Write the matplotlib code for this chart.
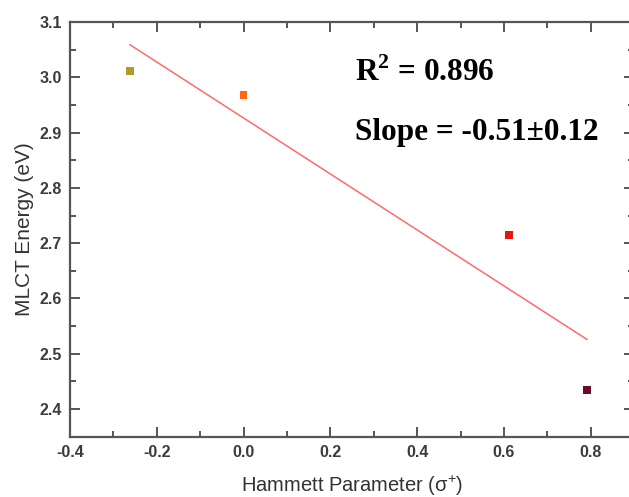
import matplotlib.pyplot as plt
import numpy as np
from matplotlib.ticker import MultipleLocator

plt.rcParams["mathtext.fontset"] = "custom"
plt.rcParams["mathtext.rm"] = "Liberation Sans"
plt.rcParams["mathtext.it"] = "Liberation Sans"
plt.rcParams["mathtext.bf"] = "Liberation Serif:bold"

# Hammett parameter vs MLCT energy
sigma_plus = [-0.262, 0.0, 0.612, 0.791]
mlct_ev = [3.011, 2.968, 2.715, 2.434]
point_colors = ["#b39a26", "#ff6a10", "#e5160c", "#6a0a30"]

r2_text = r"R$^{\mathbf{2}}$ = 0.896"
slope_text = "Slope = -0.51\u00b10.12"

fig = plt.figure(figsize=(6.29, 4.97), dpi=100)
ax = fig.add_axes([0.1113, 0.1213, 0.897, 0.8344])

# linear fit drawn over the data range
coef = np.polyfit(sigma_plus, mlct_ev, 1)
xfit = np.array([min(sigma_plus), max(sigma_plus)])
ax.plot(xfit, np.polyval(coef, xfit), color="#ff6b6b", lw=1.1, zorder=2)

ax.scatter(sigma_plus, mlct_ev, marker="s", s=30, c=point_colors,
           edgecolors="none", zorder=3)

ax.set_xlim(-0.4, 0.9)
ax.set_ylim(2.35, 3.1)
ax.xaxis.set_minor_locator(MultipleLocator(0.1))
ax.yaxis.set_major_locator(MultipleLocator(0.1))
ax.yaxis.set_minor_locator(MultipleLocator(0.05))
ax.set_xticks([-0.4, -0.2, 0.0, 0.2, 0.4, 0.6, 0.8])
ax.set_xticklabels(["-0.4", "-0.2", "0.0", "0.2", "0.4", "0.6", "0.8"])

gray = "#3c3c3c"
for sp in ax.spines.values():
    sp.set_color("#555555")
    sp.set_linewidth(1.6)
ax.tick_params(which="both", direction="in", top=True, right=True,
               color="#555555", width=1.4, labelcolor=gray, labelsize=11.5)
ax.tick_params(which="major", length=7, pad=6)
ax.tick_params(which="minor", length=4)
for lab in ax.get_xticklabels() + ax.get_yticklabels():
    lab.set_family("Liberation Sans")
    lab.set_fontweight("bold")

ax.set_xlabel("Hammett Parameter (\u03c3$^{+}$)", family="Liberation Sans",
              fontsize=14.5, color="#333333", labelpad=10)
ax.set_ylabel("MLCT Energy (eV)", family="Liberation Sans", fontsize=15,
              color="#333333", labelpad=4)

fig.text(355 / 629, 1 - 81 / 497, r2_text, family="Liberation Serif",
         fontweight="bold", fontsize=22.5, color="black")
fig.text(355 / 629, 1 - 140 / 497, slope_text, family="Liberation Serif",
         fontweight="bold", fontsize=22.5, color="black")

fig.savefig("out.png", dpi=100)
